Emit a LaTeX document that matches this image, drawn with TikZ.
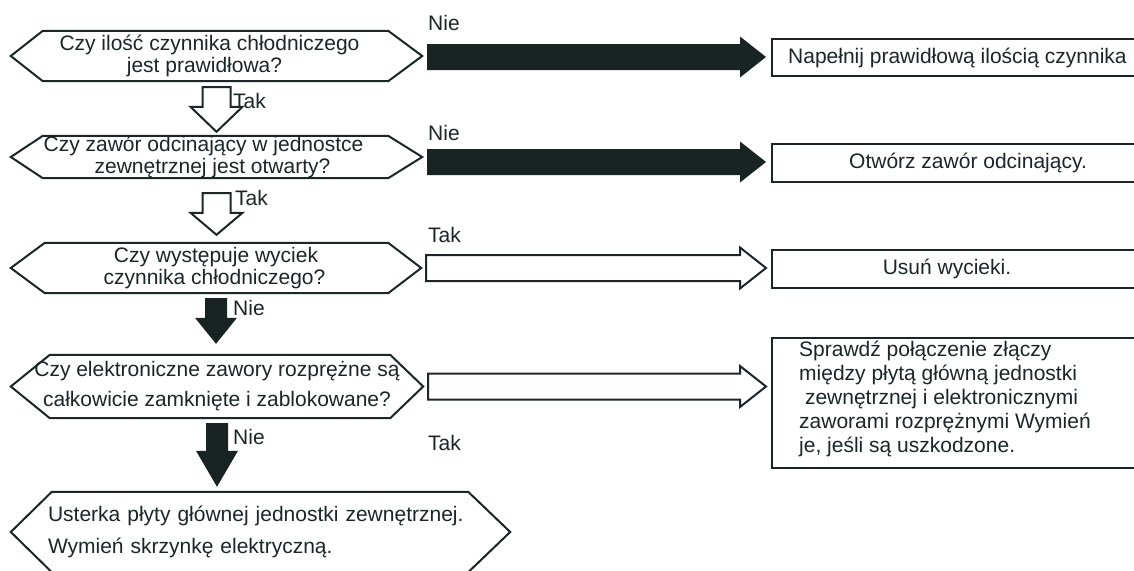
\documentclass[tikz,border=0pt]{standalone}
\usepackage{fontspec}
\setmainfont{Liberation Sans}
\usetikzlibrary{calc}
\definecolor{ink}{RGB}{28,38,38}
\definecolor{fillk}{RGB}{24,35,34}
% hexagon outline around a named node: #1 node, #2 left tip depth, #3 right tip depth
\newcommand{\hexo}[3]{\draw[outl] (#1.west) -- ([xshift=#2pt]#1.north west) -- ([xshift=-#3pt]#1.north east) -- (#1.east) -- ([xshift=-#3pt]#1.south east) -- ([xshift=#2pt]#1.south west) -- cycle;}
% horizontal block arrow: #1 style, #2 from, #3 to, #4 vertical offset (pt, up)
\newcommand{\harrow}[4]{\path[#1] let \p1=($(#2)+(5,0)$), \p2=($(#3)+(-5,0)$) in
  ({\x1},{\y1+#4pt+13pt}) -- ({\x2-26pt},{\y1+#4pt+13pt}) -- ({\x2-26pt},{\y1+#4pt+20.5pt}) -- ({\x2},{\y1+#4pt}) --
  ({\x2-26pt},{\y1+#4pt-20.5pt}) -- ({\x2-26pt},{\y1+#4pt-13pt}) -- ({\x1},{\y1+#4pt-13pt}) -- cycle;}
% vertical block arrow: #1 style, #2 from, #3 to, #4 top gap, #5 bottom gap, #6 shaft half, #7 head half, #8 head length
\newcommand{\varrow}[8]{\path[#1] let \p1=(#2), \p2=(#3) in
  ({\x1-#6pt},{\y1-#4pt}) -- ({\x1-#6pt},{\y2+#5pt+#8pt}) -- ({\x1-#7pt},{\y2+#5pt+#8pt}) -- ({\x1},{\y2+#5pt}) --
  ({\x1+#7pt},{\y2+#5pt+#8pt}) -- ({\x1+#6pt},{\y2+#5pt+#8pt}) -- ({\x1+#6pt},{\y1-#4pt}) -- cycle;}
\newcommand{\sh}[1]{\hspace*{#1pt}}
\begin{document}
\begin{tikzpicture}[x=1pt,y=-1pt,
  txt/.style={font=\fontsize{21}{22}\selectfont, text=ink, inner sep=0pt},
  hexnode/.style={txt, align=center},
  outl/.style={draw=ink, line width=2pt, line join=miter},
  boxnode/.style={draw=ink, line width=2.4pt, fill=white, inner sep=0pt, anchor=north west, minimum width=420pt},
  blk/.style={fill=fillk, draw=none},
  wht/.style={fill=white, draw=ink, line width=2pt, line join=miter},
  lab/.style={txt, anchor=west}
]
\useasboundingbox (0,0) rectangle (1134,570);
\clip (0,0) rectangle (1134,570);
\fill[white] (0,0) rectangle (1134,570);

% decision hexagons
\node[hexnode, minimum width=411pt, minimum height=50pt] (h1) at (216.5,56) {Czy ilość czynnika chłodniczego\sh{14}\\jest prawidłowa?\sh{24}};
\hexo{h1}{32}{34}
\node[hexnode, minimum width=411pt, minimum height=42pt] (h2) at (216.5,157) {Czy zawór odcinający w jednostce\sh{26}\\zewnętrznej jest otwarty?\sh{8}};
\hexo{h2}{32}{34}
\node[hexnode, minimum width=410pt, minimum height=50pt] (h3) at (216,268) {Czy występuje wyciek\\czynnika chłodniczego?\sh{3}};
\hexo{h3}{34}{33}
\node[hexnode, font=\fontsize{21}{30}\selectfont, minimum width=412pt, minimum height=63pt] (h4) at (217,386.5) {Czy elektroniczne zawory rozprężne są\\całkowicie zamknięte i zablokowane?};
\hexo{h4}{39}{33}
\node[txt, align=left, font=\fontsize{21}{32}\selectfont, text width=425pt, minimum width=499pt, minimum height=80pt] (h5) at (260.5,532) {Usterka płyty głównej jednostki zewnętrznej.\\Wymień skrzynkę elektryczną.};
\hexo{h5}{41}{42}

% result boxes
\node[boxnode, minimum height=37pt] (b1) at (771,38) {};
\node[boxnode, minimum height=38pt] (b2) at (771,143) {};
\node[boxnode, minimum height=38pt] (b3) at (771,249) {};
\node[boxnode, minimum height=130pt] (b4) at (771,337) {};
\node[txt, anchor=west] (t1) at ($(b1.west)+(17,0)$) {Napełnij prawidłową ilością czynnika};
\node[txt] (t2) at ($(b2.west)+(197,0)$) {Otwórz zawór odcinający.};
\node[txt] (t3) at ($(b3.west)+(176,0)$) {Usuń wycieki.};
\node[txt, anchor=west, align=left, font=\fontsize{21}{24}\selectfont] (t4) at ($(b4.west)+(28,-4)$) {Sprawdź połączenie złączy\\między płytą główną jednostki\\\ zewnętrznej i elektronicznymi\\zaworami rozprężnymi Wymień\\je, jeśli są uszkodzone.};

% horizontal arrows
\harrow{blk}{h1.east}{b1.west}{-1}
\harrow{blk}{h2.east}{b2.west}{-5}
\harrow{wht}{h3.east}{b3.west}{0}
\harrow{wht}{h4.east}{b4.west}{0}

% vertical arrows
\varrow{wht}{h1.south}{h2.north}{6}{4}{14}{26}{25}
\varrow{wht}{h2.south}{h3.north}{15}{8}{14}{26}{22}
\varrow{blk}{h3.south}{h4.north}{5}{11}{11}{21}{26}
\varrow{blk}{h4.south}{h5.north}{5}{5}{11}{21}{36}

% labels
\node[lab] (l1) at (428,23) {Nie};
\node[lab] (l2) at (428,133) {Nie};
\node[lab] (l3) at (428,235) {Tak};
\node[lab] (l4) at (428,443) {Tak};
\node[lab] (l5) at (233,101) {Tak};
\node[lab] (l6) at (235,198) {Tak};
\node[lab] (l7) at (233,308) {Nie};
\node[lab] (l8) at (233,437) {Nie};
\end{tikzpicture}
\end{document}
